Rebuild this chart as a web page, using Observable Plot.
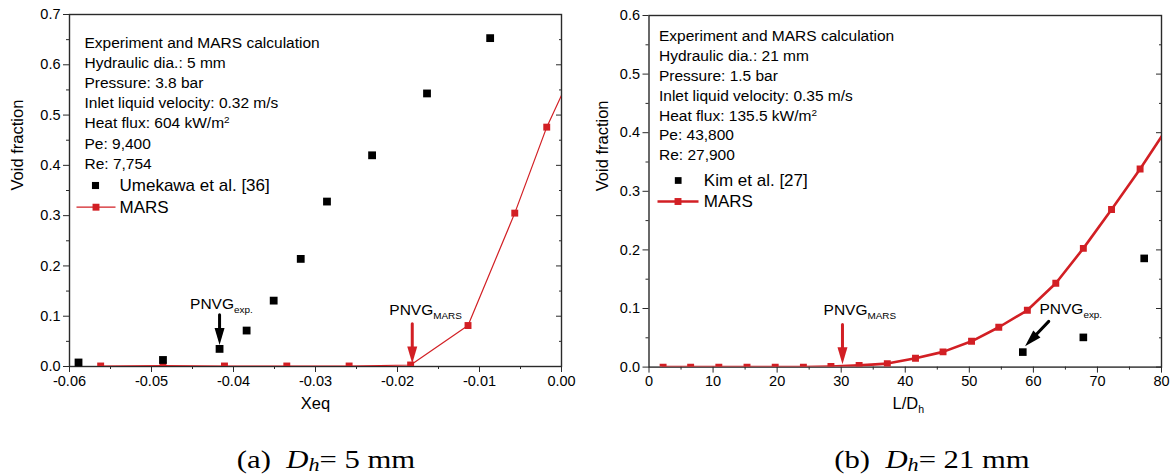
<!DOCTYPE html>
<html><head><meta charset="utf-8">
<script src="https://cdn.jsdelivr.net/npm/d3@7"></script>
<script src="https://cdn.jsdelivr.net/npm/@observablehq/plot@0.6"></script>
<style>
body{margin:0;background:#fff;}
#wrap{position:relative;width:1172px;height:476px;overflow:hidden;background:#fff;}
.panel{position:absolute;top:0;}
.cap{position:absolute;top:447px;font-family:"Liberation Serif","Times New Roman",serif;font-size:26px;line-height:26px;text-align:center;white-space:pre;color:#000;transform:scaleX(1.18);transform-origin:50% 50%;}
.cap sub{font-size:0.72em;line-height:0;vertical-align:-0.18em;}
</style></head><body>
<div id="wrap">
  <div id="pa" class="panel" style="left:0"></div>
  <div id="pb" class="panel" style="left:586px"></div>
  <div class="cap" style="left:216px;width:220px">(a)  <i>D<sub>h</sub></i>= 5 mm</div>
  <div class="cap" style="left:817px;width:230px">(b)  <i>D<sub>h</sub></i>= 21 mm</div>
</div>
<script>
// ---------- data: panel (a) ----------
const umekawaX = [-0.0589, -0.0486, -0.0417, -0.0384, -0.0351, -0.0318, -0.0286, -0.0231, -0.0164, -0.0087];
const umekawaY = [0.008, 0.013, 0.035, 0.0715, 0.131, 0.214, 0.328, 0.420, 0.543, 0.653];
const marsAX = [-0.0562, -0.0486, -0.0411, -0.0335, -0.0259, -0.0184, -0.0114, -0.0057, -0.0018, 0.0040];
const marsAY = [0.001, 0.002, 0.001, 0.001, 0.001, 0.003, 0.0815, 0.305, 0.476, 0.680];
const xTicksA = [-0.06, -0.05, -0.04, -0.03, -0.02, -0.01, 0.0];
const yTicksA = [0, 0.1, 0.2, 0.3, 0.4, 0.5, 0.6, 0.7];
const infoA = ["Experiment and MARS calculation", "Hydraulic dia.: 5 mm", "Pressure: 3.8 bar",
  "Inlet liquid velocity: 0.32 m/s", "Heat flux: 604 kW/m^{2}", "Pe: 9,400", "Re: 7,754"];
const legendA = ["Umekawa et al. [36]", "MARS"];
// annotations (a): label text, label start, arrow tail and tip
const noteTextA = ["PNVG_{exp.}", "PNVG_{MARS}"];
const noteXA = [-0.0453, -0.0210];
const noteYA = [0.125, 0.1115];
const arrowX1A = [-0.0417, -0.0182], arrowY1A = [0.1027, 0.085];
const arrowX2A = [-0.0417, -0.0182], arrowY2A = [0.043, 0.006];

// ---------- data: panel (b) ----------
const kimX = [58.35, 67.8, 77.3];
const kimY = [0.0256, 0.0507, 0.1855];
const marsBX = [2.2, 6.5, 10.9, 15.3, 19.7, 24.1, 28.4, 32.8, 37.2, 41.6, 45.9, 50.35, 54.6, 59.06, 63.5, 67.8, 72.2, 76.66, 81.0];
const marsBY = [0, 0, 0, 0, 0, 0, 0.001, 0.003, 0.006, 0.015, 0.026, 0.044, 0.068, 0.097, 0.143, 0.2026, 0.269, 0.338, 0.410];
const xTicksB = [0, 10, 20, 30, 40, 50, 60, 70, 80];
const yTicksB = [0, 0.1, 0.2, 0.3, 0.4, 0.5, 0.6];
const infoB = ["Experiment and MARS calculation", "Hydraulic dia.: 21 mm", "Pressure: 1.5 bar",
  "Inlet liquid velocity: 0.35 m/s", "Heat flux: 135.5 kW/m^{2}", "Pe: 43,800", "Re: 27,900"];
const legendB = ["Kim et al. [27]", "MARS"];
const noteTextB = ["PNVG_{MARS}", "PNVG_{exp.}"];
const noteXB = [27.25, 60.95];
const noteYB = [0.0966, 0.0995];
const arrowX1B = [30.2, 62.4], arrowY1B = [0.0727, 0.078];
const arrowX2B = [30.2, 58.7], arrowY2B = [0.005, 0.0357];

// ---------- styles ----------
const RED = "#d21f24";
const FRAME = "#2a2a2a";
const FONT = "'Liberation Sans', Arial, Helvetica, sans-serif";
const arrowHead = {draw(ctx) { ctx.moveTo(0, 0); ctx.lineTo(-5, -17); ctx.lineTo(5, -17); ctx.closePath(); }};
const legendLine = (h) => ({draw(ctx) { ctx.moveTo(-h, 0); ctx.lineTo(h, 0); }});
const minor = (ticks) => d3.pairs(ticks).map(([a, b]) => (a + b) / 2);
const zip = (xs, ys) => xs.map((x, i) => ({x, y: ys[i]}));
const arrows = (x1, y1, x2, y2, colors, rot) => x1.map((_, i) => ({x1: x1[i], y1: y1[i], x2: x2[i], y2: y2[i], c: colors[i], r: rot[i]}));
const notes = (t, x, y) => t.map((s, i) => ({t: s, x: x[i], y: y[i]}));

function axes(xTicks, yTicks, xFmt, yFmt) {
  const none = () => "";
  return [
    Plot.axisY(yTicks, {anchor: "left", tickSize: 6, tickPadding: 3, tickFormat: yFmt, label: null, stroke: FRAME, fontSize: 14.5}),
    Plot.axisY(minor(yTicks), {anchor: "left", tickSize: 3, tickFormat: none, label: null, stroke: FRAME}),
    Plot.axisY(yTicks, {anchor: "right", tickSize: -6, tickFormat: none, label: null, stroke: FRAME}),
    Plot.axisY(minor(yTicks), {anchor: "right", tickSize: -3, tickFormat: none, label: null, stroke: FRAME}),
    Plot.axisX(xTicks, {anchor: "bottom", tickSize: 6, tickPadding: 3, tickFormat: xFmt, label: null, stroke: FRAME, fontSize: 14.5}),
    Plot.axisX(minor(xTicks), {anchor: "bottom", tickSize: 3, tickFormat: none, label: null, stroke: FRAME}),
    Plot.frame({stroke: FRAME, strokeWidth: 1.4})
  ];
}

function richText(svg) {
  d3.select(svg).selectAll("text, tspan").each(function () {
    if (this.childElementCount) return;
    const s = this.textContent;
    if (!/[_^]\{/.test(s)) return;
    const el = d3.select(this);
    el.text(null);
    s.split(/([_^]\{[^}]*\})/).forEach(p => {
      if (!p) return;
      const m = p.match(/^([_^])\{([^}]*)\}$/);
      if (m) el.append("tspan").attr("font-size", "0.64em")
        .attr("baseline-shift", m[1] === "_" ? "-4px" : "5px").text(m[2]);
      else el.append("tspan").text(p);
    });
  });
  return svg;
}

// ---------- panel (a) ----------
const pa = Plot.plot({
  width: 586, height: 420, marginLeft: 69, marginRight: 25, marginTop: 14, marginBottom: 54,
  x: {domain: [-0.06, 0]}, y: {domain: [0, 0.7]},
  style: {fontFamily: FONT, fontSize: "14px", color: "#000", background: "transparent", overflow: "visible"},
  marks: [
    ...axes(xTicksA, yTicksA, d => d.toFixed(2), d => d.toFixed(1)),
    Plot.line(zip(marsAX, marsAY), {x: "x", y: "y", stroke: RED, strokeWidth: 1.2, clip: true}),
    Plot.dot(zip(marsAX, marsAY), {x: "x", y: "y", symbol: "square", r: 3.9, fill: RED, clip: true}),
    Plot.dot(zip(umekawaX, umekawaY), {x: "x", y: "y", symbol: "square", r: 4.4, fill: "#000"}),
    Plot.arrow(arrows(arrowX1A, arrowY1A, arrowX2A, arrowY2A, ["#000", RED], [0, 0]), {x1: "x1", y1: "y1", x2: "x2", y2: "y2", stroke: "c", strokeWidth: 3, headLength: 0, insetEnd: 10}),
    Plot.dot(arrows(arrowX1A, arrowY1A, arrowX2A, arrowY2A, ["#000", RED], [0, 0]), {x: "x2", y: "y2", symbol: arrowHead, fill: "c", stroke: "none", rotate: "r"}),
    Plot.text(notes(noteTextA, noteXA, noteYA), {x: "x", y: "y", text: "t", textAnchor: "start", fontSize: 15.5, fill: "#000"}),
    Plot.text([infoA.join("\n")], {frameAnchor: "top-left", dx: 15, dy: 19, lineAnchor: "top", textAnchor: "start", fontSize: 15.5, lineHeight: 1.3, fill: "#000"}),
    Plot.dot([0], {frameAnchor: "top-left", dx: 26, dy: 171, symbol: "square", r: 4, fill: "#000"}),
    Plot.text([legendA[0]], {frameAnchor: "top-left", dx: 50, dy: 171, textAnchor: "start", lineAnchor: "middle", fontSize: 17, fill: "#000"}),
    Plot.dot([0], {frameAnchor: "top-left", dx: 26.5, dy: 192.7, symbol: legendLine(19.5), stroke: RED, fill: "none", strokeWidth: 1.2}),
    Plot.dot([0], {frameAnchor: "top-left", dx: 26.5, dy: 192.7, symbol: "square", r: 3.9, fill: RED}),
    Plot.text([legendA[1]], {frameAnchor: "top-left", dx: 50, dy: 192.7, textAnchor: "start", lineAnchor: "middle", fontSize: 17, fill: "#000"}),
    Plot.text(["Void fraction"], {frameAnchor: "left", dx: -52, rotate: -90, lineAnchor: "middle", fontSize: 16.5, fill: "#000"}),
    Plot.text(["Xeq"], {frameAnchor: "bottom", dy: 37, lineAnchor: "middle", fontSize: 16.5, fill: "#000"})
  ]
});
document.getElementById("pa").appendChild(richText(pa));

// ---------- panel (b) ----------
const pb = Plot.plot({
  width: 586, height: 420, marginLeft: 62.5, marginRight: 11, marginTop: 15, marginBottom: 53.4,
  x: {domain: [0, 80]}, y: {domain: [0, 0.6]},
  style: {fontFamily: FONT, fontSize: "14px", color: "#000", background: "transparent", overflow: "visible"},
  marks: [
    ...axes(xTicksB, yTicksB, d => String(d), d => d.toFixed(1)),
    Plot.line(zip(marsBX, marsBY), {x: "x", y: "y", stroke: RED, strokeWidth: 2.6, clip: true}),
    Plot.dot(zip(marsBX, marsBY), {x: "x", y: "y", symbol: "square", r: 3.9, fill: RED, clip: true}),
    Plot.dot(zip(kimX, kimY), {x: "x", y: "y", symbol: "square", r: 4.3, fill: "#000"}),
    Plot.arrow(arrows(arrowX1B, arrowY1B, arrowX2B, arrowY2B, [RED, "#000"], [0, 44]), {x1: "x1", y1: "y1", x2: "x2", y2: "y2", stroke: "c", strokeWidth: 3, headLength: 0, insetEnd: 10}),
    Plot.dot(arrows(arrowX1B, arrowY1B, arrowX2B, arrowY2B, [RED, "#000"], [0, 44]), {x: "x2", y: "y2", symbol: arrowHead, fill: "c", stroke: "none", rotate: "r"}),
    Plot.text(notes(noteTextB, noteXB, noteYB), {x: "x", y: "y", text: "t", textAnchor: "start", fontSize: 15.5, fill: "#000"}),
    Plot.text([infoB.join("\n")], {frameAnchor: "top-left", dx: 10, dy: 11.3, lineAnchor: "top", textAnchor: "start", fontSize: 15.5, lineHeight: 1.284, fill: "#000"}),
    Plot.dot([0], {frameAnchor: "top-left", dx: 29.2, dy: 165, symbol: "square", r: 3.8, fill: "#000"}),
    Plot.text([legendB[0]], {frameAnchor: "top-left", dx: 54.8, dy: 165, textAnchor: "start", lineAnchor: "middle", fontSize: 17, fill: "#000"}),
    Plot.dot([0], {frameAnchor: "top-left", dx: 29, dy: 186, symbol: legendLine(20.5), stroke: RED, fill: "none", strokeWidth: 2.6}),
    Plot.dot([0], {frameAnchor: "top-left", dx: 29, dy: 186, symbol: "square", r: 3.9, fill: RED}),
    Plot.text([legendB[1]], {frameAnchor: "top-left", dx: 54.8, dy: 186, textAnchor: "start", lineAnchor: "middle", fontSize: 17, fill: "#000"}),
    Plot.text(["Void fraction"], {frameAnchor: "left", dx: -46, rotate: -90, lineAnchor: "middle", fontSize: 16.5, fill: "#000"}),
    Plot.text(["L/D_{h}"], {frameAnchor: "bottom", dx: 3, dy: 37, lineAnchor: "middle", fontSize: 16.5, fill: "#000"})
  ]
});
document.getElementById("pb").appendChild(richText(pb));
</script>
</body></html>
